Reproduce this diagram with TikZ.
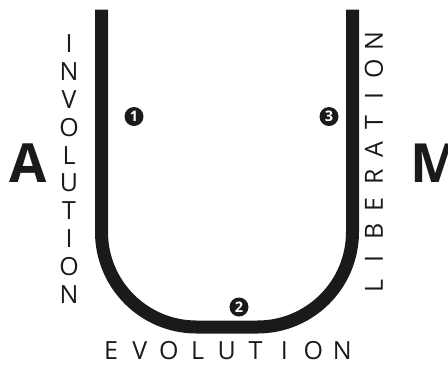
\documentclass[tikz,border=0pt]{standalone}
\usepackage{fontspec}
\setmainfont{Open Sans}
\definecolor{ink}{HTML}{1A1A1A}
\begin{document}
\begin{tikzpicture}[x=1pt,y=-1pt,
  path/.style={draw=ink,line width=13pt},
  letter/.style={inner sep=0pt,text=ink,font=\fontsize{25}{25}\selectfont},
  big/.style={inner sep=0pt,text=ink,font=\fontsize{54}{54}\selectfont\bfseries},
  num/.style={circle,fill=ink,minimum size=19pt,inner sep=0pt,text=white,font=\fontsize{14.5}{14.5}\selectfont\bfseries}]
\useasboundingbox (0,0) rectangle (448,365);
\coordinate (ltop) at (101.5,9.5);
\coordinate (rtop) at (352.5,9.5);
\draw[path,rounded corners=95pt] (ltop) -- (101.5,327) -- (352.5,327) -- (rtop);
% big letters
\node[big,anchor=base] (A) at (28,182) {A};
\node[big,anchor=base west] (M) at (410,182) {M};
% INVOLUTION
\foreach \c [count=\i] in {I,N,V,O,L,U,T,I,O,N}{
  \node[letter] (inv\i) at (69,{44+(\i-1)*27.8}) {\c};
}
% LIBERATION (reads bottom to top)
\foreach \c [count=\i] in {L,I,B,E,R,A,T,I,O,N}{
  \node[letter,rotate=90] (lib\i) at (374,{286-(\i-1)*27.2}) {\c};
}
% EVOLUTION
\foreach \c [count=\i] in {E,V,O,L,U,T,I,O,N}{
  \node[letter] (evo\i) at ({111+(\i-1)*28.9},351) {\c};
}
\node[num] (n1) at (134,116.5) {1};
\node[num] (n2) at (239,307) {2};
\node[num] (n3) at (329,116.5) {3};
\end{tikzpicture}
\end{document}
